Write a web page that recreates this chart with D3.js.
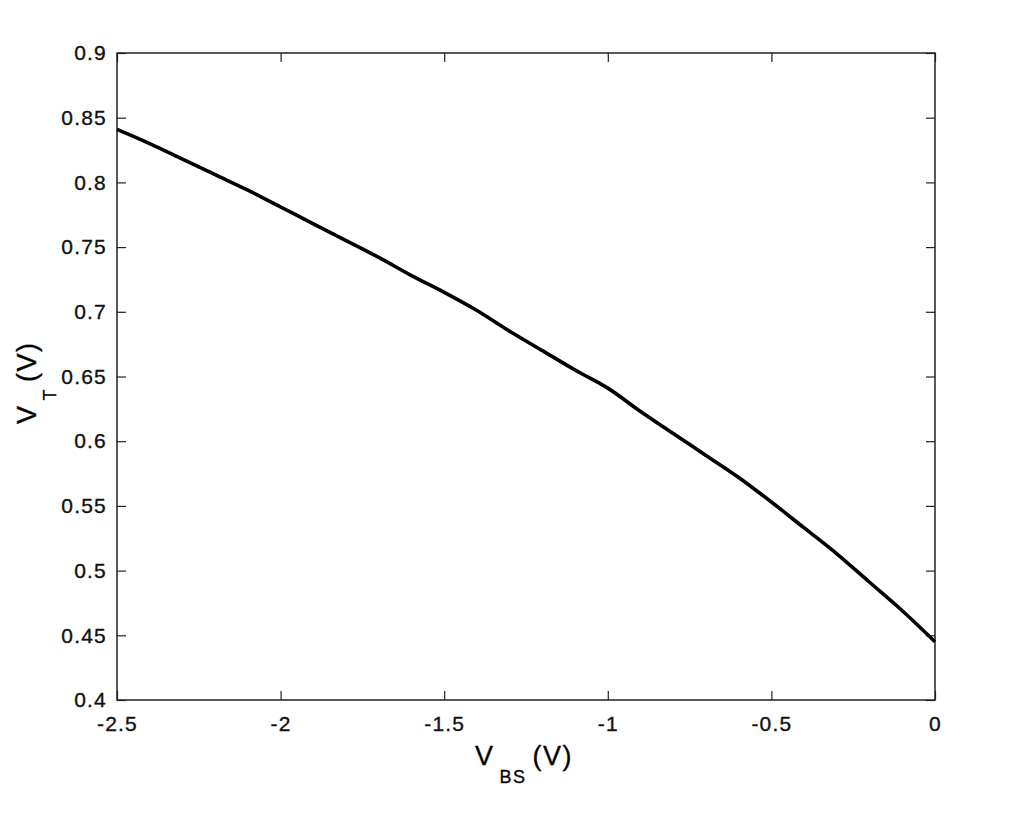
<!DOCTYPE html>
<html lang="en">
<head>
  <meta charset="UTF-8">
  <title>VT vs VBS</title>
  <style>
    body { margin: 0; background: white; }
    text { font-family: 'Liberation Sans', Arial, sans-serif; }
  </style>
</head>
<body>
  <svg id="svg" width="1019" height="816"></svg>
  <script src="https://d3js.org/d3.v7.min.js"></script>
  <script>
    // data
    const vbs = [-2.5, -2.4, -2.3, -2.2, -2.1, -2.0, -1.9, -1.8, -1.7, -1.6, -1.5, -1.4, -1.3,
                 -1.2, -1.1, -1.0, -0.9, -0.8, -0.7, -0.6, -0.5, -0.4, -0.3, -0.2, -0.1, 0]
    const vt = [0.841, 0.830, 0.818, 0.806, 0.794, 0.781, 0.768, 0.755, 0.742, 0.728, 0.715, 0.701, 0.685,
                0.670, 0.655, 0.641, 0.623, 0.606, 0.589, 0.572, 0.553, 0.533, 0.513, 0.491, 0.469, 0.445]
    const xTicks = [-2.5, -2, -1.5, -1, -0.5, 0]
    const yTicks = [0.4, 0.45, 0.5, 0.55, 0.6, 0.65, 0.7, 0.75, 0.8, 0.85, 0.9]

    const data = vbs.map((d, i) => ({ x: d, y: vt[i] }))

    const plotLeft = 117, plotRight = 935, plotTop = 53, plotBottom = 700
    const svg = d3.select('#svg')

    const xScale = d3.scaleLinear().domain([-2.5, 0]).range([plotLeft, plotRight])
    const yScale = d3.scaleLinear().domain([0.4, 0.9]).range([plotBottom, plotTop])

    const styleAxis = g => {
      g.select('.domain').remove()
      g.selectAll('line').attr('stroke', '#222').attr('stroke-width', 1.2)
      g.selectAll('text')
        .attr('fill', '#111')
        .attr('stroke', '#111')
        .attr('stroke-width', 0.35)
        .style('font-size', '21px')
        .style('letter-spacing', '1.2px')
    }

    svg.append('g')
      .attr('transform', `translate(0, ${plotBottom})`)
      .call(d3.axisBottom(xScale).tickValues(xTicks).tickFormat(d => String(d)).tickSize(-9).tickPadding(16))
      .call(styleAxis)
    svg.append('g')
      .attr('transform', `translate(0, ${plotTop})`)
      .call(d3.axisTop(xScale).tickValues(xTicks).tickFormat('').tickSize(-9))
      .call(styleAxis)
    svg.append('g')
      .attr('transform', `translate(${plotLeft}, 0)`)
      .call(d3.axisLeft(yScale).tickValues(yTicks).tickFormat(d => String(d)).tickSize(-9).tickPadding(10))
      .call(styleAxis)
    svg.append('g')
      .attr('transform', `translate(${plotRight}, 0)`)
      .call(d3.axisRight(yScale).tickValues(yTicks).tickFormat('').tickSize(-9))
      .call(styleAxis)

    // frame
    svg.append('rect')
      .attr('x', plotLeft).attr('y', plotTop)
      .attr('width', plotRight - plotLeft).attr('height', plotBottom - plotTop)
      .attr('fill', 'none').attr('stroke', '#222').attr('stroke-width', 1.5)

    const line = d3.line().x(d => xScale(d.x)).y(d => yScale(d.y)).curve(d3.curveMonotoneX)
    svg.append('path')
      .datum(data)
      .attr('d', line)
      .attr('fill', 'none')
      .attr('stroke', 'black')
      .attr('stroke-width', 3.6)
      .attr('stroke-linejoin', 'round')

    // x title
    const xt = svg.append('text')
      .attr('x', 475).attr('y', 765)
      .attr('stroke', '#111').attr('stroke-width', 0.35)
      .style('font-size', '27px')
      .style('letter-spacing', '1.5px')
    xt.append('tspan').text('V')
    xt.append('tspan').attr('dx', 5).attr('dy', 18).style('font-size', '18px').text('BS')
    xt.append('tspan').attr('dx', 6).attr('dy', -18).text('(V)')

    // y title
    const yt = svg.append('text')
      .attr('transform', 'translate(36, 424) rotate(-90)')
      .attr('stroke', '#111').attr('stroke-width', 0.35)
      .style('font-size', '27px')
      .style('letter-spacing', '1.5px')
    yt.append('tspan').text('V')
    yt.append('tspan').attr('dx', 4).attr('dy', 20).style('font-size', '18px').text('T')
    yt.append('tspan').attr('dx', 6).attr('dy', -20).text('(V)')
  </script>
</body>
</html>
